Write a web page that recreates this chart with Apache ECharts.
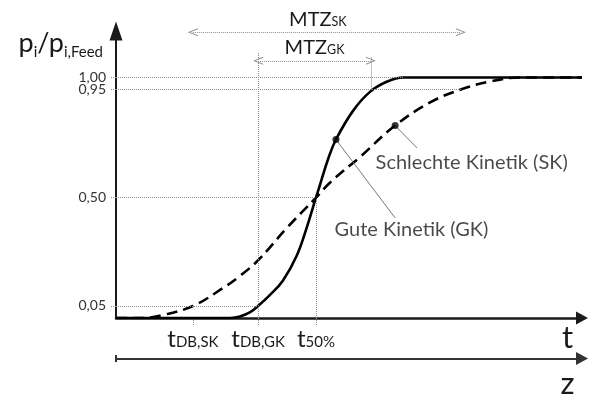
<!DOCTYPE html>
<html><head><meta charset="utf-8">
<script src="https://cdn.jsdelivr.net/npm/echarts@6/dist/echarts.min.js"></script>
<style>html,body{margin:0;padding:0;background:#fff}#c{width:589px;height:399px}</style>
</head><body><div id="c"></div>
<script>
// ---- data (x in relative time units 0..100, y = p_i/p_i,Feed) ----
const gkX = [0, 22.0, 24.5, 26.6, 28.8, 30.5, 33.0, 35.8, 38.8, 41.0, 42.9, 43.8, 45.5, 47.2, 50.9, 54.5, 58.2, 61.6, 100];
const gkY = [0, 0, 0.0, 0.006, 0.024, 0.05, 0.095, 0.155, 0.26, 0.38, 0.5, 0.555, 0.66, 0.742, 0.862, 0.94, 0.983, 1.0, 1.0];
const skX = [0, 5.8, 10.1, 16.5, 23.0, 26.6, 30.5, 36.7, 42.9, 45.9, 52.4, 59.9, 67.4, 74.0, 80.3, 86.7, 100];
const skY = [0, 0, 0.0125, 0.05, 0.125, 0.175, 0.24, 0.375, 0.5, 0.5625, 0.67, 0.8, 0.896, 0.95, 0.983, 1.0, 1.0];

const tDBSK = 16.5, tDBGK = 30.5, t50 = 42.9, tGK95 = 54.7, tSK95 = 74.0, tGK100 = 61.6;
const yTickValues = [0.05, 0.5, 0.95, 1.0];
const yTickLabels = ['0,05', '0,50', '0,95', '1,00'];
const xTickValues = [tDBSK, tDBGK, t50];
const xTickLabels = ['{t|t}{s|DB,SK}', '{t|t}{s|DB,GK}', '{t|t}{s|50%}'];
const tAxisLabelPos = 96.9, zAxisLabelPos = 96.9;
const markPointsX = [47.2, 59.9];
const markPointsY = [0.742, 0.8];
const annoTexts = ['Gute Kinetik (GK)', 'Schlechte Kinetik (SK)'];

// ---- layout (annotation placement in data coordinates) ----
const guideTopSK = 1.221, guideTopGK = 1.105, guideTopGK95 = 1.085;
const mtzSKy = 1.188, mtzGKy = 1.069;
const leaderEnd = [[59.9, 0.416], [64.6, 0.707]];
const annoAnchor = [[46.8, 0.366], [55.6, 0.645]];

const FONT = 'Lato';
const C_AX = '#1a1a1a', C_GUIDE = '#8c8c8c', C_TXT = '#1a1a1a';
const chevron = 'path://M5,0L10,10L8.8,10L5,2.4L1.2,10L0,10Z';
const seg = (x1, y1, x2, y2) => [{coord: [x1, y1]}, {coord: [x2, y2]}];
const zip = (a, b) => a.map((v, i) => [v, b[i]]);
const pick = (vals, labels, v) => { let bi = 0, bd = 1e9; vals.forEach((x, i) => { const d = Math.abs(x - v); if (d < bd) { bd = d; bi = i; } }); return labels[bi]; };

const guideLines = [
  seg(0, 1.0, tGK100, 1.0), seg(0, 0.95, tSK95, 0.95), seg(0, 0.5, t50, 0.5), seg(0, 0.05, tDBGK, 0.05),
  seg(tDBSK, 0, tDBSK, guideTopSK), seg(tDBGK, 0, tDBGK, guideTopGK), seg(t50, 0, t50, 0.5),
  seg(tGK95, 0.95, tGK95, guideTopGK95), seg(tSK95, 0.95, tSK95, guideTopSK)
];

const chart = echarts.init(document.getElementById('c'));
const dummy = (extra) => Object.assign({type: 'line', data: [], clip: false, silent: true, symbol: 'none'}, extra);
const yLabelCommon = {margin: 10, fontFamily: FONT, fontSize: 14, color: '#333', hideOverlap: false};

chart.setOption({
  animation: false,
  backgroundColor: '#fff',
  textStyle: {fontFamily: FONT},
  grid: [
    {left: 116, right: 7, top: 31, bottom: 81},
    {left: 116, right: 7, top: 355, height: 17}
  ],
  xAxis: [{
    type: 'value', gridIndex: 0, min: 0, max: 100,
    axisLine: {show: true, onZero: false, symbol: ['none', 'triangle'], symbolSize: [13, 12], lineStyle: {color: C_AX, width: 2.5}},
    axisTick: {show: true, customValues: xTickValues, length: 7, lineStyle: {color: C_GUIDE, width: 1, type: [1, 1]}},
    axisLabel: {
      customValues: xTickValues.concat([tAxisLabelPos]), margin: 3, hideOverlap: false,
      formatter: v => Math.abs(v - tAxisLabelPos) < 0.01 ? '{T|t}' : pick(xTickValues, xTickLabels, v),
      rich: {
        t: {fontFamily: FONT, fontSize: 24, color: C_TXT, verticalAlign: 'bottom', lineHeight: 30},
        s: {fontFamily: FONT, fontSize: 15, color: C_TXT, verticalAlign: 'bottom', lineHeight: 30, padding: [0, 0, 1, 0]},
        T: {fontFamily: FONT, fontSize: 31, color: C_TXT, verticalAlign: 'bottom', lineHeight: 32}
      }
    },
    splitLine: {show: false}
  }, {
    type: 'value', gridIndex: 1, min: 0, max: 100,
    axisLine: {show: true, onZero: true, symbol: ['none', 'triangle'], symbolSize: [13, 12], lineStyle: {color: '#333', width: 2.2}},
    axisTick: {show: false},
    axisLabel: {customValues: [zAxisLabelPos], margin: 6, formatter: () => 'z', fontFamily: FONT, fontSize: 31, color: C_TXT},
    splitLine: {show: false}
  }],
  yAxis: [{
    type: 'value', gridIndex: 0, min: 0, max: 1.193,
    name: '{a|p}{b|i}{a|/p}{b|i,Feed}', nameLocation: 'end', nameGap: -14,
    nameTextStyle: {align: 'right', verticalAlign: 'middle', padding: [0, 13, 0, 0],
      rich: {
        a: {fontFamily: FONT, fontSize: 27, color: C_TXT, verticalAlign: 'bottom', padding: [0, 0, 3, 0]},
        b: {fontFamily: FONT, fontSize: 15, color: C_TXT, verticalAlign: 'bottom'}
      }},
    axisLine: {show: true, onZero: false, symbol: ['none', 'triangle'], symbolSize: [13, 19], lineStyle: {color: C_AX, width: 2}},
    axisTick: {show: true, customValues: yTickValues, length: 6, lineStyle: {color: C_GUIDE, width: 1, type: [1, 1]}},
    axisLabel: Object.assign({customValues: yTickValues.slice(0, 3), formatter: v => pick(yTickValues, yTickLabels, v)}, yLabelCommon),
    splitLine: {show: false}
  }, {
    type: 'value', gridIndex: 1, min: -1, max: 1, show: false
  }, {
    type: 'value', gridIndex: 0, min: 0, max: 1.193, position: 'left',
    axisLine: {show: false}, axisTick: {show: false}, splitLine: {show: false},
    axisLabel: Object.assign({customValues: [yTickValues[3]], formatter: v => pick(yTickValues, yTickLabels, v)}, yLabelCommon)
  }],
  series: [
    dummy({name: 'guides', markLine: {silent: true, symbol: 'none', label: {show: false},
      lineStyle: {color: C_GUIDE, width: 1, type: [1, 1]}, data: guideLines}}),
    dummy({name: 'mtzSK', markLine: {silent: true, symbol: [chevron, chevron], symbolSize: [8, 10],
      lineStyle: {color: C_GUIDE, width: 1, type: [1, 1]},
      label: {show: true, position: 'middle', distance: 3, formatter: '{m|MTZ}{s|SK}', padding: [0, 18, 0, 0],
        rich: {m: {fontFamily: FONT, fontSize: 20, color: C_TXT, verticalAlign: 'bottom'}, s: {fontFamily: FONT, fontSize: 12.5, color: C_TXT, verticalAlign: 'bottom', padding: [0, 0, 1, 0]}}},
      data: [seg(tDBSK, mtzSKy, tSK95, mtzSKy)]}}),
    dummy({name: 'mtzGK', markLine: {silent: true, symbol: [chevron, chevron], symbolSize: [8, 10],
      lineStyle: {color: C_GUIDE, width: 1, type: [1, 1]},
      label: {show: true, position: 'middle', distance: 3, formatter: '{m|MTZ}{s|GK}',
        rich: {m: {fontFamily: FONT, fontSize: 20, color: C_TXT, verticalAlign: 'bottom'}, s: {fontFamily: FONT, fontSize: 12.5, color: C_TXT, verticalAlign: 'bottom', padding: [0, 0, 1, 0]}}},
      data: [seg(tDBGK, mtzGKy, tGK95, mtzGKy)]}}),
    dummy({name: 'leaders', markLine: {silent: true, symbol: 'none', label: {show: false},
      lineStyle: {color: '#777', width: 1, type: 'solid'},
      data: markPointsX.map((x, i) => seg(x, markPointsY[i], leaderEnd[i][0], leaderEnd[i][1]))}}),
    {
      name: 'SK', type: 'line', data: zip(skX, skY), symbol: 'none', smooth: 0.4,
      lineStyle: {color: '#000', width: 2.6, type: [11, 6]}, z: 3
    },
    {
      name: 'GK', type: 'line', data: zip(gkX, gkY), symbol: 'none', smooth: 0.4,
      lineStyle: {color: '#000', width: 2.6}, z: 4
    },
    {
      name: 'points', type: 'scatter', data: zip(markPointsX, markPointsY), symbol: 'circle', symbolSize: 7,
      itemStyle: {color: '#000'}, z: 5
    },
    {
      name: 'annotations', type: 'scatter', symbolSize: 1, itemStyle: {color: 'transparent'},
      data: annoAnchor.map((p, i) => ({value: p, name: annoTexts[i]})),
      label: {show: true, position: 'right', distance: 0, formatter: p => p.name,
        fontFamily: FONT, fontSize: 20, color: C_TXT}
    },
    {
      name: 'zStart', type: 'line', xAxisIndex: 1, yAxisIndex: 1, data: [[0, -1], [0, 1]], symbol: 'none',
      lineStyle: {color: '#333', width: 2}
    }
  ]
});
</script></body></html>
